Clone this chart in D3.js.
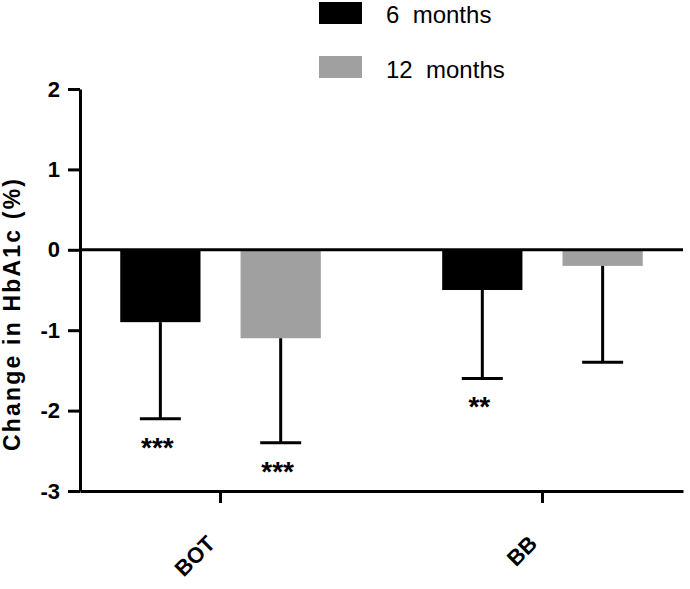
<!DOCTYPE html>
<html><head><meta charset="utf-8">
<script src="https://cdn.jsdelivr.net/npm/d3@7"></script>
<style>body{margin:0;background:#fff}svg{display:block}text{font-family:Arial,"Liberation Sans",sans-serif}</style>
</head><body>
<svg id="chart" width="690" height="589"></svg>
<script>
const categories = ["BOT", "BB"];
const series = ["6 months", "12 months"];
const colors = ["#000000", "#a0a0a0"];
const means6 = [-0.9, -0.5];
const means12 = [-1.1, -0.2];
const lower6 = [-2.1, -1.6];
const lower12 = [-2.4, -1.4];
const stars6 = ["***", "**"];
const stars12 = ["***", ""];
const yTicks = [2, 1, 0, -1, -2, -3];
const yTitle = "Change in HbA1c (%)";

const svg = d3.select("#chart");
const y = d3.scaleLinear().domain([-3, 2]).range([491, 89]);
const x0 = d3.scaleBand().domain(categories).range([80, 683]).paddingInner(0.377).paddingOuter(0.125);
const x1 = d3.scaleBand().domain(series).range([0, x0.bandwidth()]).paddingInner(0.333).paddingOuter(0);

const rows = [];
categories.forEach((c, i) => {
  rows.push({cat: c, s: series[0], mean: means6[i], low: lower6[i], star: stars6[i], color: colors[0]});
  rows.push({cat: c, s: series[1], mean: means12[i], low: lower12[i], star: stars12[i], color: colors[1]});
});

// bars
svg.append("g").selectAll("rect").data(rows).join("rect")
  .attr("x", d => x0(d.cat) + x1(d.s))
  .attr("y", y(0))
  .attr("width", x1.bandwidth())
  .attr("height", d => y(d.mean) - y(0))
  .attr("fill", d => d.color);

// error bars
const eb = svg.append("g").attr("stroke", "#000").attr("stroke-width", 3);
rows.forEach(d => {
  const cx = x0(d.cat) + x1(d.s) + x1.bandwidth() / 2;
  eb.append("line").attr("x1", cx).attr("x2", cx).attr("y1", y(d.mean)).attr("y2", y(d.low));
  eb.append("line").attr("x1", cx - 20.5).attr("x2", cx + 20.5).attr("y1", y(d.low)).attr("y2", y(d.low));
});

// significance stars
svg.append("g").selectAll("text").data(rows.filter(d => d.star)).join("text")
  .attr("x", d => x0(d.cat) + x1(d.s) + x1.bandwidth() / 2 - 3)
  .attr("y", d => y(d.low) + 38)
  .attr("text-anchor", "middle")
  .attr("font-size", 28).attr("font-weight", "bold")
  .text(d => d.star);

// zero line
svg.append("line").attr("x1", 80).attr("x2", 683).attr("y1", y(0)).attr("y2", y(0))
  .attr("stroke", "#000").attr("stroke-width", 3);

// y axis
const ya = svg.append("g").attr("transform", "translate(80,0)")
  .call(d3.axisLeft(y).tickValues(yTicks).tickSize(12).tickSizeOuter(0).tickPadding(8).tickFormat(d => String(d)));
ya.select(".domain").attr("stroke-width", 3);
ya.selectAll(".tick line").attr("stroke-width", 3);
ya.selectAll(".tick text").attr("font-size", 22).attr("font-weight", "bold").attr("font-family", "Arial, 'Liberation Sans', sans-serif").attr("fill", "#000");

// x axis
const xa = svg.append("g").attr("transform", `translate(0,${y(-3)})`)
  .call(d3.axisBottom(x0).tickSize(12).tickSizeOuter(0));
xa.select(".domain").attr("stroke-width", 3);
xa.selectAll(".tick line").attr("stroke-width", 3);
xa.selectAll(".tick text")
  .attr("font-size", 22).attr("font-weight", "bold").attr("font-family", "Arial, 'Liberation Sans', sans-serif").attr("fill", "#000")
  .attr("text-anchor", "end").attr("dy", 0).attr("y", 0)
  .attr("transform", "translate(-4,54) rotate(-45)");

// y title
svg.append("text")
  .attr("transform", "translate(20,315) rotate(-90)")
  .attr("text-anchor", "middle")
  .attr("font-size", 23).attr("font-weight", "bold")
  .attr("textLength", 272).attr("lengthAdjust", "spacing")
  .text(yTitle);

// legend
const lg = svg.append("g");
series.forEach((s, i) => {
  lg.append("rect").attr("x", 319).attr("y", 2 + i * 54).attr("width", 43).attr("height", 22).attr("fill", colors[i]);
  lg.append("text").attr("x", 386).attr("y", 23 + i * 55).attr("font-size", 24).attr("fill", "#000")
    .attr("style", "white-space:pre").text(s.replace(" ", "  "));
});
</script>
</body></html>
